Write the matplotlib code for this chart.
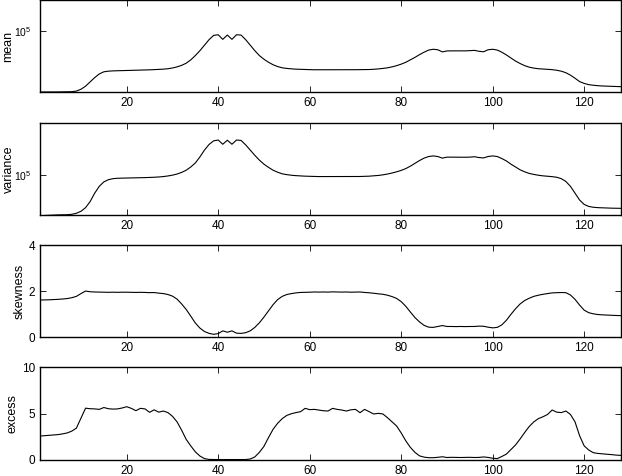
import numpy as np
import matplotlib
matplotlib.use('Agg')
import matplotlib.pyplot as plt
from matplotlib.ticker import NullLocator, FixedLocator

plt.rcParams['font.family'] = ['Liberation Sans', 'DejaVu Sans']
plt.rcParams['font.size'] = 9
plt.rcParams['mathtext.default'] = 'regular'

# sample index 1..128
x = np.arange(1, 129)

# log10 of the mean
mean_log10 = [
    4.005, 4.005, 4.005, 4.005, 4.006, 4.007, 4.008, 4.01, 4.02, 4.05,
    4.10, 4.17, 4.24, 4.30, 4.335, 4.345, 4.35, 4.352, 4.354, 4.356,
    4.358, 4.36, 4.362, 4.364, 4.367, 4.37, 4.374, 4.378, 4.385, 4.397,
    4.415, 4.44, 4.475, 4.53, 4.60, 4.68, 4.77, 4.86, 4.93, 4.94,
    4.865, 4.935, 4.865, 4.94, 4.935, 4.86, 4.77, 4.68, 4.60, 4.54,
    4.49, 4.45, 4.42, 4.40, 4.39, 4.383, 4.378, 4.375, 4.372, 4.37,
    4.368, 4.368, 4.368, 4.368, 4.368, 4.368, 4.368, 4.368, 4.369, 4.369,
    4.37, 4.37, 4.372, 4.376, 4.382, 4.39, 4.40, 4.415, 4.435, 4.46,
    4.49, 4.53, 4.57, 4.615, 4.655, 4.69, 4.703, 4.695, 4.66, 4.675,
    4.677, 4.677, 4.678, 4.677, 4.68, 4.685, 4.67, 4.662, 4.695, 4.703,
    4.69, 4.655, 4.61, 4.56, 4.51, 4.47, 4.435, 4.41, 4.395, 4.385,
    4.38, 4.375, 4.37, 4.36, 4.345, 4.32, 4.28, 4.23, 4.175, 4.145,
    4.125, 4.115, 4.108, 4.103, 4.10, 4.097, 4.094, 4.092,
]

# log10 of the variance
variance_log10 = [
    3.99, 3.995, 4.0, 4.005, 4.01, 4.012, 4.015, 4.025, 4.05, 4.10,
    4.19, 4.34, 4.55, 4.72, 4.83, 4.885, 4.91, 4.92, 4.924, 4.926,
    4.928, 4.93, 4.933, 4.936, 4.94, 4.945, 4.952, 4.962, 4.977, 4.997,
    5.025, 5.065, 5.12, 5.20, 5.30, 5.45, 5.62, 5.76, 5.85, 5.87,
    5.765, 5.865, 5.765, 5.87, 5.86, 5.75, 5.62, 5.49, 5.37, 5.27,
    5.19, 5.12, 5.07, 5.03, 5.01, 4.995, 4.985, 4.978, 4.972, 4.968,
    4.965, 4.962, 4.962, 4.962, 4.962, 4.962, 4.962, 4.962, 4.962, 4.962,
    4.964, 4.967, 4.972, 4.98, 4.99, 5.005, 5.025, 5.05, 5.08, 5.115,
    5.16, 5.22, 5.29, 5.36, 5.42, 5.46, 5.475, 5.46, 5.42, 5.445,
    5.445, 5.445, 5.443, 5.442, 5.445, 5.455, 5.435, 5.425, 5.46, 5.475,
    5.46, 5.41, 5.35, 5.27, 5.20, 5.13, 5.08, 5.04, 5.015, 4.995,
    4.98, 4.97, 4.96, 4.945, 4.91, 4.84, 4.72, 4.55, 4.38, 4.27,
    4.22, 4.20, 4.19, 4.185, 4.18, 4.177, 4.175, 4.173,
]

skewness = [
    1.62, 1.625, 1.63, 1.64, 1.65, 1.665, 1.685, 1.72, 1.78, 1.90,
    2.01, 1.98, 1.97, 1.965, 1.96, 1.955, 1.96, 1.955, 1.96, 1.96,
    1.955, 1.95, 1.955, 1.95, 1.94, 1.945, 1.92, 1.90, 1.86, 1.79,
    1.66, 1.45, 1.21, 0.92, 0.62, 0.40, 0.25, 0.17, 0.13, 0.16,
    0.28, 0.22, 0.28, 0.18, 0.17, 0.20, 0.28, 0.43, 0.63, 0.88,
    1.15, 1.42, 1.64, 1.78, 1.86, 1.90, 1.93, 1.95, 1.955, 1.96,
    1.97, 1.965, 1.97, 1.965, 1.975, 1.97, 1.965, 1.97, 1.96, 1.965,
    1.97, 1.95, 1.935, 1.915, 1.89, 1.87, 1.83, 1.77, 1.69, 1.55,
    1.35, 1.10, 0.86, 0.67, 0.52, 0.44, 0.43, 0.47, 0.51, 0.47,
    0.47, 0.465, 0.47, 0.465, 0.47, 0.47, 0.485, 0.48, 0.44, 0.41,
    0.43, 0.54, 0.74, 1.00, 1.24, 1.45, 1.60, 1.70, 1.78, 1.83,
    1.87, 1.90, 1.93, 1.94, 1.945, 1.94, 1.84, 1.65, 1.40, 1.18,
    1.07, 1.02, 0.99, 0.975, 0.965, 0.955, 0.948, 0.942,
]

excess = [
    2.56, 2.60, 2.64, 2.68, 2.72, 2.80, 2.90, 3.10, 3.42, 4.50,
    5.58, 5.52, 5.50, 5.45, 5.65, 5.52, 5.48, 5.50, 5.60, 5.74,
    5.56, 5.31, 5.56, 5.50, 5.13, 5.40, 5.15, 5.27, 5.10, 4.70,
    4.10, 3.20, 2.20, 1.50, 0.85, 0.40, 0.12, 0.03, 0.02, 0.02,
    0.02, 0.02, 0.02, 0.02, 0.02, 0.02, 0.08, 0.30, 0.80, 1.45,
    2.40, 3.30, 3.95, 4.45, 4.80, 4.98, 5.10, 5.20, 5.56, 5.42,
    5.45, 5.38, 5.30, 5.27, 5.56, 5.45, 5.38, 5.27, 5.40, 5.45,
    5.09, 5.45, 5.20, 4.95, 5.02, 4.95, 4.55, 4.10, 3.65, 2.90,
    2.05, 1.34, 0.80, 0.42, 0.28, 0.22, 0.22, 0.26, 0.32, 0.24,
    0.26, 0.25, 0.24, 0.25, 0.26, 0.24, 0.25, 0.30, 0.25, 0.16,
    0.12, 0.35, 0.61, 1.10, 1.60, 2.25, 2.95, 3.60, 4.10, 4.45,
    4.65, 4.90, 5.38, 5.15, 5.10, 5.27, 4.90, 4.10, 2.60, 1.50,
    1.05, 0.76, 0.68, 0.64, 0.60, 0.55, 0.50, 0.47,
]

fig = plt.figure(figsize=(6.22, 4.76), dpi=100)

rects = [
    [0.064, 0.8061, 0.934, 0.1929],
    [0.064, 0.5477, 0.934, 0.1945],
    [0.064, 0.2914, 0.934, 0.1933],
    [0.064, 0.0342, 0.934, 0.1941],
]
series = [
    ('mean', 10 ** np.array(mean_log10), 'log', (1e4, 10 ** 5.5), [1e5], -0.0435),
    ('variance', 10 ** np.array(variance_log10), 'log', (1e4, 10 ** 6.3), [1e5], -0.0435),
    ('skewness', np.array(skewness), 'linear', (0, 4), [0, 2, 4], -0.025),
    ('excess', np.array(excess), 'linear', (0, 10), [0, 5, 10], -0.037),
]

for rect, (name, y, scale, lim, yticks, labx) in zip(rects, series):
    ax = fig.add_axes(rect)
    ax.plot(x, y, color='black', lw=0.8)
    ax.set_yscale(scale)
    ax.set_xlim(1, 128)
    ax.set_ylim(*lim)
    ax.set_xticks([20, 40, 60, 80, 100, 120])
    ax.yaxis.set_major_locator(FixedLocator(yticks))
    ax.yaxis.set_minor_locator(NullLocator())
    ax.tick_params(direction='in', length=4, width=0.6, top=True, right=True,
                   labelsize=8.5)
    ax.tick_params(axis='x', pad=3.5)
    if scale == 'log':
        ax.tick_params(axis='y', pad=6, labelsize=7.5)
    else:
        ax.tick_params(axis='y', pad=3.5)
    for sp in ax.spines.values():
        sp.set_linewidth(1.0)
    ax.set_ylabel(name, fontsize=9)
    ax.yaxis.set_label_coords(labx, 0.5)

fig.savefig('out.png', dpi=100)
